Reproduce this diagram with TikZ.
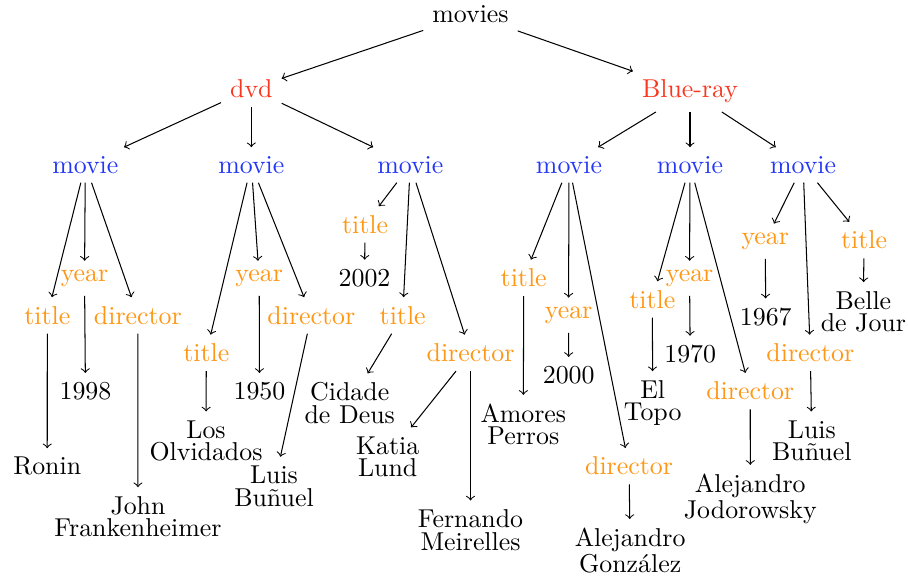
\documentclass[tikz,border=0pt]{standalone}
\usepackage{xcolor}
\definecolor{rojo}{RGB}{250,55,30}
\definecolor{azul}{RGB}{35,55,245}
\definecolor{naranja}{RGB}{255,150,20}
\tikzset{
    soporte/.style={text=rojo},
    pelicula/.style={text=azul},
    campo/.style={text=naranja},
    valor/.style={align=center,font=\fontsize{10}{8.7}\selectfont},
}
\begin{document}
\begin{tikzpicture}[every node/.style={anchor=base}]
    \useasboundingbox (0,0) rectangle (12.345,-7.886);

    % Raiz y soportes
    \node (raiz) at (6.397,-0.309) {movies};
    \node[soporte] (dvd)  at (3.417,-1.326) {dvd};
    \node[soporte] (bray) at (9.381,-1.326) {Blue-ray};

    % Peliculas
    \foreach \n/\x in {1/1.160,2/3.417,3/5.578,4/7.736,5/9.381,6/10.918} {
        \node[pelicula] (m\n) at (\x,-2.356) {movie};
    }

    % Pelicula 1
    \node[campo] (y1) at (1.149,-3.827) {year};
    \node[campo] (t1) at (0.643,-4.409) {title};
    \node[campo] (d1) at (1.874,-4.409) {director};
    \node (vy1) at (1.162,-5.429) {1998};
    \node (vt1) at (0.642,-6.458) {Ronin};
    \node[valor] (vd1) at (1.876,-7.297) {John\\Frankenheimer};

    % Pelicula 2
    \node[campo] (y2) at (3.524,-3.827) {year};
    \node[campo] (t2) at (2.805,-4.918) {title};
    \node[campo] (d2) at (4.233,-4.409) {director};
    \node (vy2) at (3.528,-5.429) {1950};
    \node[valor] (vt2) at (2.801,-6.264) {Los\\Olvidados};
    \node[valor] (vd2) at (3.725,-6.880) {Luis\\Bu\~nuel};

    % Pelicula 3
    \node[campo] (t3a) at (4.963,-3.172) {title};
    \node (vt3a) at (4.956,-3.889) {2002};
    \node[campo] (t3) at (5.475,-4.409) {title};
    \node[campo] (d3) at (6.397,-4.918) {director};
    \node[valor] (vt3) at (4.755,-5.755) {Cidade\\de Deus};
    \node[valor] (vd3a) at (5.271,-6.481) {Katia\\Lund};
    \node[valor] (vd3b) at (6.397,-7.478) {Fernando\\Meirelles};

    % Pelicula 4
    \node[campo] (t4) at (7.120,-3.898) {title};
    \node[campo] (y4) at (7.730,-4.328) {year};
    \node[campo] (d4) at (8.552,-6.458) {director};
    \node (vy4) at (7.732,-5.211) {2000};
    \node[valor] (vt4) at (7.115,-6.050) {Amores\\Perros};
    \node[valor] (vd4) at (8.568,-7.787) {Alejandro\\Gonz\'alez};

    % Pelicula 5
    \node[campo] (y5) at (9.375,-3.827) {year};
    \node[campo] (t5) at (8.869,-4.192) {title};
    \node[campo] (d5) at (10.200,-5.438) {director};
    \node (vy5) at (9.384,-4.926) {1970};
    \node[valor] (vt5) at (8.874,-5.720) {El\\Topo};
    \node[valor] (vd5) at (10.201,-7.047) {Alejandro\\Jodorowsky};

    % Pelicula 6
    \node[campo] (y6) at (10.404,-3.322) {year};
    \node[campo] (t6) at (11.747,-3.385) {title};
    \node[campo] (d6) at (11.017,-4.918) {director};
    \node (vy6) at (10.411,-4.419) {1967};
    \node[valor] (vt6) at (11.738,-4.510) {Belle\\de Jour};
    \node[valor] (vd6) at (11.037,-6.264) {Luis\\Bu\~nuel};

    % Aristas
    \foreach \a/\b in {raiz/dvd,raiz/bray,dvd/m1,dvd/m2,dvd/m3,bray/m4,bray/m5,bray/m6,
        m1/t1,m1/y1,m1/d1,t1/vt1,y1/vy1,d1/vd1,
        m2/t2,m2/y2,m2/d2,t2/vt2,y2/vy2,d2/vd2,
        m3/t3a,m3/t3,m3/d3,t3a/vt3a,t3/vt3,d3/vd3a,d3/vd3b,
        m4/t4,m4/y4,m4/d4,t4/vt4,y4/vy4,d4/vd4,
        m5/t5,m5/y5,m5/d5,t5/vt5,y5/vy5,d5/vd5,
        m6/y6,m6/t6,m6/d6,y6/vy6,t6/vt6,d6/vd6} {
        \draw[->] (\a) -- (\b);
    }
\end{tikzpicture}
\end{document}
